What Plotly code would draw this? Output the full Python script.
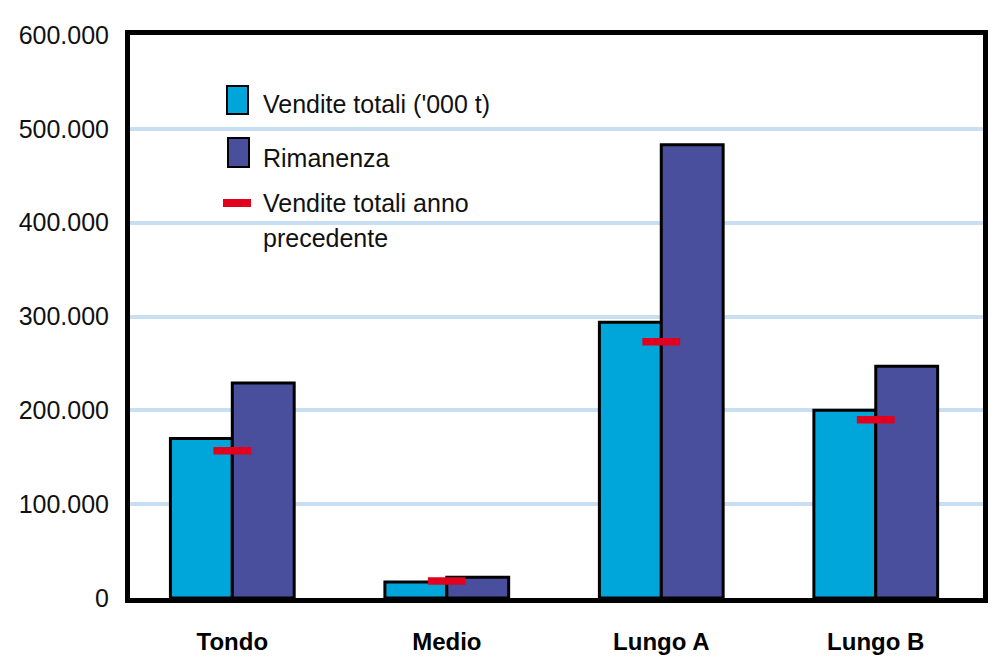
import plotly.graph_objects as go

categories = ["Tondo", "Medio", "Lungo A", "Lungo B"]
vendite_totali = [170000, 17000, 294000, 200000]
rimanenza = [229000, 22000, 483000, 247000]
vendite_anno_precedente = [157000, 18000, 273000, 190000]
y_tickvals = [0, 100000, 200000, 300000, 400000, 500000, 600000]
y_ticktext = ["0", "100.000", "200.000", "300.000", "400.000", "500.000", "600.000"]

legend_labels = ["Vendite totali ('000 t)", "Rimanenza", "Vendite totali anno", "precedente"]

# the page body adds an 8px offset; the figure is sized to fit the window
OFF = 8
W, H = 990, 650
ML, MT = 130 - OFF, 35 - OFF
MR = W - (983 - OFF)
MB = H - (598 - OFF)
PW = W - ML - MR
PH = H - MT - MB

C_VEND = "#00a6da"
C_RIM = "#4a4f9d"
C_RED = "#e1001e"
C_GRID = "#c8def2"


def px_x(x):
    return (x - OFF - ML) / PW


def px_y(y):
    return (H - MB - (y - OFF)) / PH


fig = go.Figure()
fig.add_trace(go.Bar(
    x=categories, y=vendite_totali, name=legend_labels[0],
    marker=dict(color=C_VEND, line=dict(color="black", width=3)),
))
fig.add_trace(go.Bar(
    x=categories, y=rimanenza, name=legend_labels[1],
    marker=dict(color=C_RIM, line=dict(color="black", width=3)),
))
fig.add_trace(go.Scatter(
    x=categories, y=vendite_anno_precedente, mode="markers",
    name="Vendite totali anno precedente",
    marker=dict(symbol="line-ew", size=27, color=C_RED,
                line=dict(color=C_RED, width=7.5)),
))

shapes = [
    dict(type="rect", xref="paper", yref="paper",
         x0=px_x(227), x1=px_x(248), y0=px_y(114), y1=px_y(86),
         fillcolor=C_VEND, line=dict(color="black", width=2)),
    dict(type="rect", xref="paper", yref="paper",
         x0=px_x(228), x1=px_x(249), y0=px_y(167), y1=px_y(138),
         fillcolor=C_RIM, line=dict(color="black", width=2)),
    dict(type="rect", xref="paper", yref="paper",
         x0=px_x(223), x1=px_x(251), y0=px_y(207), y1=px_y(199),
         fillcolor=C_RED, line=dict(width=0)),
]

legend_font = dict(family="Liberation Sans, Arial, sans-serif", size=25, color="#111111")
annotations = []
for label, yc in zip(legend_labels, [103.5, 158, 203, 238]):
    annotations.append(dict(
        text=label, xref="paper", yref="paper", x=px_x(261), y=px_y(yc),
        xanchor="left", yanchor="middle", showarrow=False, font=legend_font,
    ))

fig.update_layout(
    width=W, height=H,
    margin=dict(l=ML, r=MR, t=MT, b=MB, autoexpand=False),
    paper_bgcolor="white", plot_bgcolor="white",
    barmode="group", bargap=0.423, bargroupgap=0,
    showlegend=False,
    shapes=shapes, annotations=annotations,
)
fig.update_xaxes(
    type="category", range=[-0.477, 3.5],
    showline=True, linewidth=5, linecolor="black", mirror=True,
    showgrid=False, ticks="", automargin=False,
    tickfont=dict(family="Liberation Sans Narrow, Arial Narrow, Liberation Sans, sans-serif",
                  size=24, color="black", weight="bold"),
    ticklabelstandoff=18,
)
fig.update_yaxes(
    range=[0, 600000], tickmode="array", tickvals=y_tickvals, ticktext=y_ticktext,
    showline=True, linewidth=5, linecolor="black", mirror=True,
    showgrid=True, gridcolor=C_GRID, gridwidth=3.5, zeroline=False,
    ticks="", automargin=False,
    tickfont=dict(family="Liberation Sans, Arial, sans-serif", size=25, color="#111111"),
    ticklabelstandoff=11,
)

fig.write_html("out.html")
